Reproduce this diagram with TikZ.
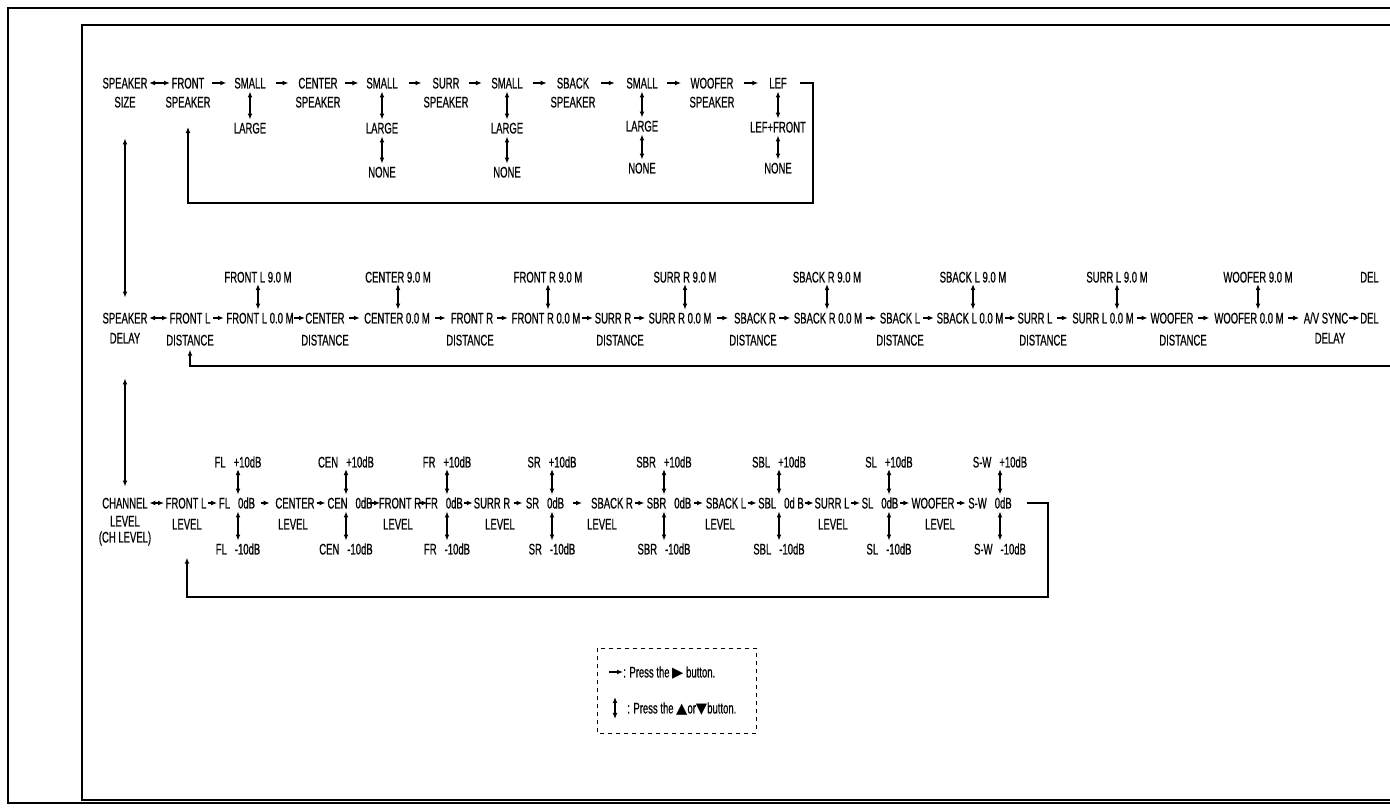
\documentclass[tikz,border=0pt]{standalone}
\usepackage{fontspec}
\setmainfont{Liberation Sans}[FakeStretch=0.62,FakeBold=0.6]
\newfontfamily\symfont{DejaVu Sans}
\usetikzlibrary{arrows.meta,calc}
\newcommand\gp{\hspace{6pt}}
\newcommand\tri[1]{{\symfont\fontsize{11}{11}\selectfont #1}}
% fixed-length arrow centred in the gap between two named nodes
\newcommand\link[3]{\draw[hop] ($(#1.east)!0.5!(#2.west)+(-#3/2,0)$) -- ++(#3,0);}
\tikzset{
 lb/.style={inner sep=0pt, text height=8.2pt, text depth=0pt, font=\fontsize{11.5}{13}\selectfont},
 tip/.style={-{Latex[length=4.5pt,width=3.6pt]}},
 hop/.style={tip, line width=0.9pt},
 both/.style={{Latex[length=4.5pt,width=3.6pt]}-{Latex[length=4.5pt,width=3.6pt]}, line width=0.9pt, shorten <=2pt, shorten >=2pt},
 fb/.style={line width=0.8pt},
 fbarr/.style={fb, tip},
 frame/.style={line width=1.4pt},
 legendbox/.style={dashed, line width=0.6pt},
}
\begin{document}
\begin{tikzpicture}[x={(0.75pt,0)}, y={(0,-0.75pt)}]
\useasboundingbox (0,0) rectangle (1390,812);
\clip (0,0) rectangle (1390,812);
% frames
\draw[frame] (1400,8) -- (8,8) -- (8,803) -- (1400,803);
\draw[frame] (1400,25) -- (82,25) -- (82,800) -- (1400,800);

% ---------------- top row: SPEAKER SIZE
\node[lb] (t0) at (125,83) {SPEAKER};
\node[lb] (t0b) at (125,102) {SIZE};
\node[lb] (t1) at (188,83) {FRONT};
\node[lb] (t1b) at (188,102) {SPEAKER};
\node[lb] (t2) at (250,83) {SMALL};
\node[lb] (t2l) at (250,128) {LARGE};
\node[lb] (t3) at (318,83) {CENTER};
\node[lb] (t3b) at (318,102) {SPEAKER};
\node[lb] (t4) at (382,83) {SMALL};
\node[lb] (t4l) at (382,128) {LARGE};
\node[lb] (t4n) at (382,172) {NONE};
\node[lb] (t5) at (446,83) {SURR};
\node[lb] (t5b) at (446,102) {SPEAKER};
\node[lb] (t6) at (507,83) {SMALL};
\node[lb] (t6l) at (507,128) {LARGE};
\node[lb] (t6n) at (507,172) {NONE};
\node[lb] (t7) at (573,83) {SBACK};
\node[lb] (t7b) at (573,102) {SPEAKER};
\node[lb] (t8) at (642,83) {SMALL};
\node[lb] (t8l) at (642,126) {LARGE};
\node[lb] (t8n) at (642,168) {NONE};
\node[lb] (t9) at (712,83) {WOOFER};
\node[lb] (t9b) at (712,102) {SPEAKER};
\node[lb] (t10) at (778,83) {LEF};
\node[lb] (t10l) at (778,127) {LEF+FRONT};
\node[lb] (t10n) at (778,168) {NONE};

\draw[both, shorten <=1pt, shorten >=1pt] (t0.east) -- (t1.west);
\link{t1}{t2}{14}
\link{t2}{t3}{13}
\link{t3}{t4}{13}
\link{t4}{t5}{13}
\link{t5}{t6}{13}
\link{t6}{t7}{14}
\link{t7}{t8}{14}
\link{t8}{t9}{14}
\link{t9}{t10}{14}
\draw[both] (t2.south) -- (t2l.north);
\draw[both] (t4.south) -- (t4l.north);
\draw[both] (t4l.south) -- (t4n.north);
\draw[both] (t6.south) -- (t6l.north);
\draw[both] (t6l.south) -- (t6n.north);
\draw[both] (t8.south) -- (t8l.north);
\draw[both] (t8l.south) -- (t8n.north);
\draw[both] (t10.south) -- (t10l.north);
\draw[both] (t10l.south) -- (t10n.north);
\coordinate (tfa) at (800,83);
\coordinate (tfb) at (813,203);
\draw[fbarr] (tfa) -| (tfb) -| ([yshift=-14.5pt]t1b.south);

% ---------------- middle row: SPEAKER DELAY
\node[lb] (m0) at (125,318) {SPEAKER};
\node[lb] (m0b) at (125,338) {DELAY};
\node[lb] (m1) at (190,318) {FRONT L};
\node[lb] (m1b) at (190,340) {DISTANCE};
\node[lb] (m2) at (260,318) {FRONT L 0.0 M};
\node[lb] (m2u) at (258,277) {FRONT L 9.0 M};
\node[lb] (m3) at (325,318) {CENTER};
\node[lb] (m3b) at (325,340) {DISTANCE};
\node[lb] (m4) at (397,318) {CENTER 0.0 M};
\node[lb] (m4u) at (398,277) {CENTER 9.0 M};
\node[lb] (m5) at (472,318) {FRONT R};
\node[lb] (m5b) at (470,340) {DISTANCE};
\node[lb] (m6) at (546,318) {FRONT R 0.0 M};
\node[lb] (m6u) at (548,277) {FRONT R 9.0 M};
\node[lb] (m7) at (613,318) {SURR R};
\node[lb] (m7b) at (620,340) {DISTANCE};
\node[lb] (m8) at (680,318) {SURR R 0.0 M};
\node[lb] (m8u) at (685,277) {SURR R 9.0 M};
\node[lb] (m9) at (755,318) {SBACK R};
\node[lb] (m9b) at (753,340) {DISTANCE};
\node[lb] (m10) at (828,318) {SBACK R 0.0 M};
\node[lb] (m10u) at (827,277) {SBACK R 9.0 M};
\node[lb] (m11) at (900,318) {SBACK L};
\node[lb] (m11b) at (900,340) {DISTANCE};
\node[lb] (m12) at (970,318) {SBACK L 0.0 M};
\node[lb] (m12u) at (973,277) {SBACK L 9.0 M};
\node[lb] (m13) at (1035,318) {SURR L};
\node[lb] (m13b) at (1043,340) {DISTANCE};
\node[lb] (m14) at (1103,318) {SURR L 0.0 M};
\node[lb] (m14u) at (1117,277) {SURR L 9.0 M};
\node[lb] (m15) at (1172,318) {WOOFER};
\node[lb] (m15b) at (1183,340) {DISTANCE};
\node[lb] (m16) at (1249,318) {WOOFER 0.0 M};
\node[lb] (m16u) at (1258,277) {WOOFER 9.0 M};
\node[lb] (m17) at (1326,318) {A/V SYNC};
\node[lb] (m17b) at (1330,338) {DELAY};
\node[lb, anchor=west] (m18) at (1360,318) {DEL};
\node[lb, anchor=west] (m18u) at (1360,277) {DEL};

\draw[both, shorten <=1pt, shorten >=1pt] (m0.east) -- (m1.west);
\foreach \a/\b in {1/2,2/3,3/4,4/5,5/6,6/7,7/8,8/9,9/10,10/11,11/12,12/13,13/14,14/15,15/16,16/17,17/18}{
  \link{m\a}{m\b}{11}
}
\foreach \i in {2,4,6,8,10,12,14,16}{
  \draw[both, shorten <=1pt] (m\i u.south) -- (m\i u.south |- m\i.north);
}
\coordinate (mfa) at (1400,366);
\draw[fbarr] (mfa) -| ([yshift=-3pt]m1b.south);

% ---------------- bottom row: CHANNEL LEVEL
\node[lb] (b0) at (125,503) {CHANNEL};
\node[lb] (b0b) at (125,521) {LEVEL};
\node[lb] (b0c) at (125,537) {(CH LEVEL)};
\node[lb] (b1) at (186,503) {FRONT L};
\node[lb] (b1b) at (187,524) {LEVEL};
\node[lb] (b2) at (237,503) {FL\gp 0dB};
\node[lb] (b2u) at (238,462) {FL\gp +10dB};
\node[lb] (b2d) at (238,549) {FL\gp -10dB};
\node[lb] (b3) at (295,503) {CENTER};
\node[lb] (b3b) at (293,524) {LEVEL};
\node[lb] (b4) at (350,503) {CEN\gp 0dB};
\node[lb] (b4u) at (346,462) {CEN\gp +10dB};
\node[lb] (b4d) at (346,549) {CEN\gp -10dB};
\node[lb] (b5) at (400,503) {FRONT R};
\node[lb] (b5b) at (398,524) {LEVEL};
\node[lb] (b6) at (444,503) {FR\gp 0dB};
\node[lb] (b6u) at (447,462) {FR\gp +10dB};
\node[lb] (b6d) at (447,549) {FR\gp -10dB};
\node[lb] (b7) at (492,503) {SURR R};
\node[lb] (b7b) at (500,524) {LEVEL};
\node[lb] (b8) at (545,503) {SR\gp 0dB};
\node[lb] (b8u) at (552,462) {SR\gp +10dB};
\node[lb] (b8d) at (552,549) {SR\gp -10dB};
\node[lb] (b9) at (612,503) {SBACK R};
\node[lb] (b9b) at (602,524) {LEVEL};
\node[lb] (b10) at (669,503) {SBR\gp 0dB};
\node[lb] (b10u) at (664,462) {SBR\gp +10dB};
\node[lb] (b10d) at (664,549) {SBR\gp -10dB};
\node[lb] (b11) at (726,503) {SBACK L};
\node[lb] (b11b) at (720,524) {LEVEL};
\node[lb] (b12) at (781,503) {SBL\gp 0d B};
\node[lb] (b12u) at (779,462) {SBL\gp +10dB};
\node[lb] (b12d) at (779,549) {SBL\gp -10dB};
\node[lb] (b13) at (832,503) {SURR L};
\node[lb] (b13b) at (833,524) {LEVEL};
\node[lb] (b14) at (880,503) {SL\gp 0dB};
\node[lb] (b14u) at (889,462) {SL\gp +10dB};
\node[lb] (b14d) at (889,549) {SL\gp -10dB};
\node[lb] (b15) at (933,503) {WOOFER};
\node[lb] (b15b) at (940,524) {LEVEL};
\node[lb] (b16) at (990,503) {S-W\gp 0dB};
\node[lb] (b16u) at (1000,462) {S-W\gp +10dB};
\node[lb] (b16d) at (1000,549) {S-W\gp -10dB};

\draw[both, shorten <=1pt, shorten >=1pt] (b0.east) -- (b1.west);
\foreach \a/\b in {1/2,2/3,3/4,4/5,5/6,6/7,7/8,8/9,9/10,10/11,11/12,12/13,13/14,14/15,15/16}{
  \link{b\a}{b\b}{9}
}
\foreach \i in {2,4,6,8,10,12,14,16}{
  \draw[both, shorten <=1pt] (b\i u.south) -- (b\i u.south |- b\i.north);
  \draw[both] (b\i d.north |- b\i.south) -- (b\i d.north);
}
\coordinate (bfa) at (1027,503);
\coordinate (bfb) at (1048,597);
\draw[fbarr] (bfa) -| (bfb) -| ([yshift=-21pt]b1b.south);

% ---------------- links between the three menus
\draw[both, shorten <=23pt, shorten >=11pt] (t0b.south) -- (m0.north);
\draw[both, shorten <=26pt, shorten >=8pt] (m0b.south) -- (b0.north);

% ---------------- legend
\draw[legendbox] (597,648) rectangle (756,733);
\node[lb, anchor=west] (lg1) at (623,672) {: Press the \tri{▶} button.};
\node[lb, anchor=west] (lg2) at (627,708) {: Press the \tri{▲}or\tri{▼}button.};
\coordinate (lg1s) at (609,672);
\draw[hop] (lg1s) -- (lg1.west);
\coordinate (lg2a) at (615,697);
\coordinate (lg2b) at (615,719);
\draw[both, shorten <=0pt, shorten >=0pt] (lg2a) -- (lg2b);
\end{tikzpicture}
\end{document}
